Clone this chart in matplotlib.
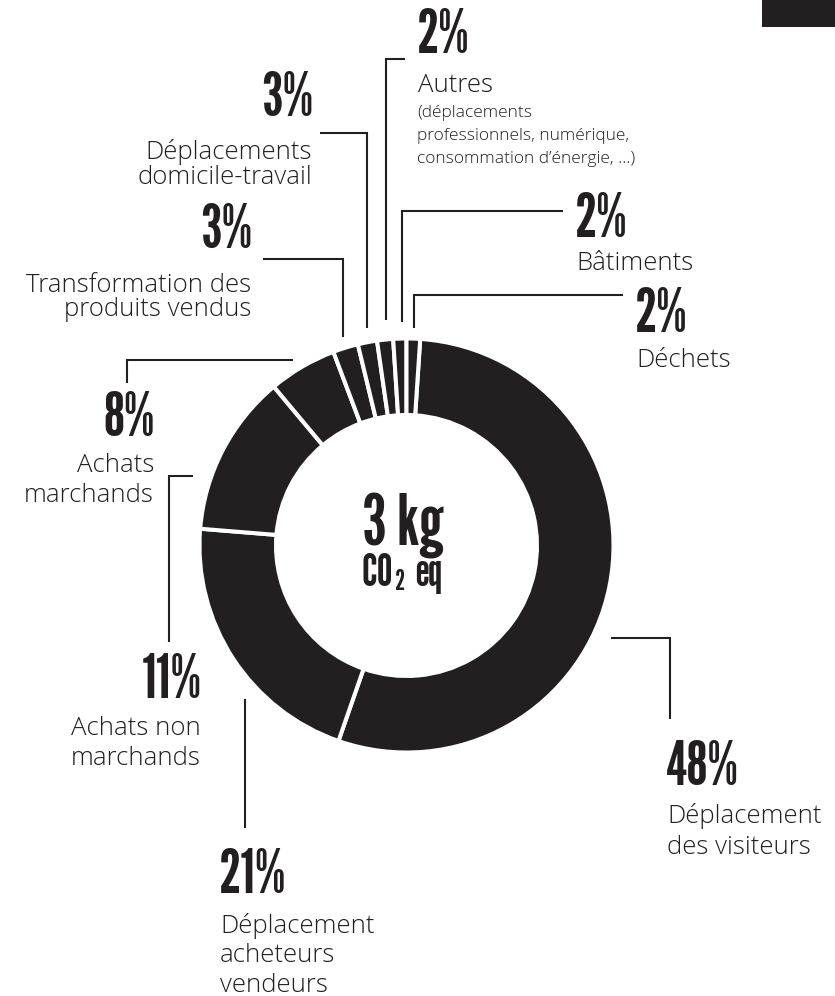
import numpy as np
import matplotlib
matplotlib.use("Agg")
import matplotlib.pyplot as plt

# data, clockwise from the top of the ring
categories = ["Déplacement\ndes visiteurs", "Déplacement\nacheteurs\nvendeurs",
              "Achats non\nmarchands", "Achats\nmarchands",
              "Transformation des\nproduits vendus", "Déplacements\ndomicile-travail",
              "Autres", "Bâtiments", "Déchets"]
shares = [48, 21, 11, 8, 3, 3, 2, 2, 2]
# the ring is not drawn to scale: angular sizes (deg)
arc_deg = [195.5, 75.5, 45.5, 19.2, 7.1, 5.4, 4.5, 3.7, 3.8]
autres_detail = "(déplacements\nprofessionnels, numérique,\nconsommation d\u2019énergie, ...)"
total_kg = 3

INK = "#231f20"
W, H = 835, 996
NUM_FONT = ["League Gothic", "DejaVu Sans"]
TXT_FONT = ["Open Sans", "DejaVu Sans"]


def Y(y):
    return H - y


def main():
    fig = plt.figure(figsize=(W / 100, H / 100), dpi=100)
    ax = fig.add_axes([0, 0, 1, 1])

    cx, cy = 406.5, 545.5
    ax.pie(arc_deg, startangle=90 - 3.8, counterclock=False, radius=207,
           center=(cx, Y(cy)), colors=[INK],
           wedgeprops=dict(width=76.5, edgecolor="white", linewidth=2.9))
    ax.set_xlim(0, W)
    ax.set_ylim(0, H)
    ax.set_aspect("equal")
    ax.axis("off")

    # centre text
    ax.text(403, Y(545), f"{total_kg} kg", family=NUM_FONT,
            fontsize=51, color=INK, ha="center", va="baseline")
    ax.text(393, Y(586), "CO", family=NUM_FONT,
            fontsize=32, color=INK, ha="right", va="baseline")
    ax.text(395.5, Y(590), "2", family=NUM_FONT,
            fontsize=20, color=INK, ha="left", va="baseline")
    ax.text(415, Y(586), "eq", family=NUM_FONT,
            fontsize=32, color=INK, ha="left", va="baseline")

    # leader lines (pixel paths)
    leaders = [
        [(610.7, 638), (670, 638), (670, 719)],
        [(245, 699), (245, 828)],
        [(169, 642), (169, 476), (193, 476)],
        [(126.7, 383), (126.7, 359.5), (293, 359.5)],
        [(263, 259), (343, 259), (343, 337)],
        [(320, 132.5), (366.7, 132.5), (366.7, 328)],
        [(405, 58.5), (385.5, 58.5), (385.5, 320)],
        [(562.7, 211), (401.7, 211), (401.7, 322)],
        [(623, 295), (414.3, 295), (414.3, 328)],
    ]
    for pts in leaders:
        xs = [p[0] for p in pts]
        ys = [Y(p[1]) for p in pts]
        ax.plot(xs, ys, color=INK, lw=1.5, solid_joinstyle="miter",
                solid_capstyle="butt")

    # label layout: (x, baseline of %, align, first text baseline, line step)
    layout = [
        (666, 785, "left", 823, 31.5),
        (219, 893, "left", 933, 29.5),
        (202, 698, "right", 735, 30),
        (155, 436, "right", 471.7, 30),
        (252, 248, "right", 291.7, 24.5),
        (313, 116, "right", 159, 25),
        (417, 53, "left", 91.7, 24),
        (575, 236.5, "left", 270, 24),
        (635, 331.5, "left", 367, 24),
    ]
    for cat, pct, (x, yb, ha, yt, step) in zip(categories, shares, layout):
        ax.text(x, Y(yb), f"{pct}%", family=NUM_FONT,
                fontsize=44, color=INK, ha=ha, va="baseline")
        for i, line in enumerate(cat.split("\n")):
            ax.text(x + (1 if ha == "left" else -1), Y(yt + i * step), line,
                    family=TXT_FONT, weight="light", fontsize=18.5, color=INK,
                    ha=ha, va="baseline")

    for i, line in enumerate(autres_detail.split("\n")):
        ax.text(417, Y(116.7 + i * 23.3), line, family=TXT_FONT,
                weight="light", fontsize=12.5, color=INK, ha="left",
                va="baseline")

    # black tab at the top right
    ax.add_patch(plt.Rectangle((762, Y(26.7)), W - 762, 26.7, color=INK,
                               lw=0))

    fig.savefig("out.png", dpi=100)


if __name__ == "__main__":
    main()
